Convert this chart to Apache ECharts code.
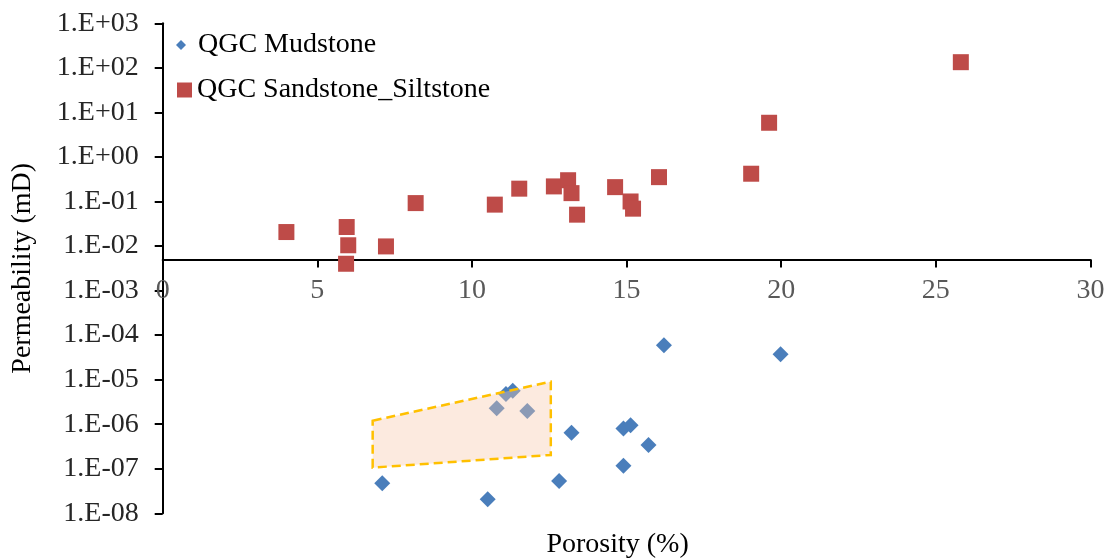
<!DOCTYPE html>
<html>
<head>
<meta charset="utf-8">
<script src="https://cdn.jsdelivr.net/npm/echarts@6/dist/echarts.min.js"></script>
<style>
html,body{margin:0;padding:0;background:#fff;}
#chart{width:1110px;height:559px;}
</style>
</head>
<body>
<div id="chart"></div>
<script>
// ---- data ----
var mudPorosity = [7.1, 10.51, 10.8, 11.1, 11.32, 11.79, 12.82, 13.22, 14.9, 15.13, 15.71, 14.9, 16.21, 19.98];
var mudPerm = [4.7e-8, 2.06e-8, 2.28e-6, 4.78e-6, 5.66e-6, 1.98e-6, 5.3e-8, 6.4e-7, 8.05e-7, 9.5e-7, 3.4e-7, 1.17e-7, 5.9e-5, 3.7e-5];
var sandPorosity = [4.0, 5.95, 6.0, 5.93, 7.22, 8.18, 10.74, 11.53, 12.65, 13.11, 13.22, 13.4, 14.63, 15.13, 15.21, 16.05, 19.03, 19.61, 25.81];
var sandPerm = [0.0206, 0.0267, 0.0104, 0.0040, 0.0098, 0.092, 0.085, 0.194, 0.218, 0.30, 0.154, 0.0506, 0.21, 0.10, 0.069, 0.352, 0.42, 5.85, 134];
var zonePorosity = [6.79, 12.55, 12.55, 6.79];
var zonePerm = [1.20e-6, 9.0e-6, 2.04e-7, 1.06e-7];
var yTickLabels = ['1.E-08','1.E-07','1.E-06','1.E-05','1.E-04','1.E-03','1.E-02','1.E-01','1.E+00','1.E+01','1.E+02','1.E+03'];
var xTicks = [0, 5, 10, 15, 20, 25, 30];
var xCross = 0.005;
var seriesNames = ['QGC Mudstone', 'QGC Sandstone_Siltstone'];

var FONT = 'Liberation Serif';
var FS = 28;
var gridTop = 23.3, gridBottom = 45.7, gridLeft = 162.7, gridRight = 19.6;
var yMinExp = -8, yMaxExp = 3;
var gridH = 559 - gridTop - gridBottom;
var xOffset = -gridH * (Math.log10(xCross) - yMinExp) / (yMaxExp - yMinExp);

function zip(a, b) { return a.map(function (v, i) { return [v, b[i]]; }); }

var chart = echarts.init(document.getElementById('chart'), null, {renderer: 'canvas'});
var option = {
  backgroundColor: '#ffffff',
  animation: false,
  grid: {left: gridLeft, right: gridRight, top: gridTop, bottom: gridBottom, containLabel: false, outerBoundsMode: 'none'},
  legend: [
    {data: [{name: seriesNames[0], icon: 'diamond'}], left: 176, top: 31, padding: 0,
     itemWidth: 10, itemHeight: 10, selectedMode: false,
     textStyle: {fontFamily: FONT, fontSize: FS, color: '#000', padding: [0, 0, 0, 7]}},
    {data: [{name: seriesNames[1], icon: 'rect'}], left: 177, top: 76, padding: 0,
     itemWidth: 15, itemHeight: 15, selectedMode: false,
     textStyle: {fontFamily: FONT, fontSize: FS, color: '#000'}}
  ],
  xAxis: {
    type: 'value', min: xTicks[0], max: xTicks[xTicks.length - 1], interval: 5,
    position: 'bottom', offset: xOffset,
    axisLine: {onZero: false, lineStyle: {color: '#000', width: 2}},
    axisTick: {show: true, inside: false, length: 8, lineStyle: {color: '#000', width: 2}},
    axisLabel: {margin: 17, fontFamily: FONT, fontSize: FS, color: '#595959'},
    splitLine: {show: false},
    name: 'Porosity (%)', nameLocation: 'middle', nameGap: 271,
    nameTextStyle: {fontFamily: FONT, fontSize: FS, color: '#000', padding: [0, 18, 0, 0]}
  },
  yAxis: {
    type: 'log', logBase: 10, min: Math.pow(10, yMinExp), max: Math.pow(10, yMaxExp), interval: 1,
    axisLine: {onZero: false, lineStyle: {color: '#000', width: 2}},
    axisTick: {show: true, inside: false, length: 8, lineStyle: {color: '#000', width: 2}},
    axisLabel: {margin: 24, fontFamily: FONT, fontSize: FS, color: '#262626',
      formatter: function (v) { var e = Math.round(Math.log10(v)); return yTickLabels[e - yMinExp]; }},
    splitLine: {show: false},
    minorTick: {show: false},
    name: 'Permeability (mD)', nameLocation: 'middle', nameGap: 126,
    nameTextStyle: {fontFamily: FONT, fontSize: FS, color: '#000'}
  },
  series: [
    {name: seriesNames[0], type: 'scatter', symbol: 'diamond', symbolSize: 16, z: 2,
     itemStyle: {color: '#4A7EBB', opacity: 1}, data: zip(mudPorosity, mudPerm)},
    {name: seriesNames[1], type: 'scatter', symbol: 'rect', symbolSize: 16, z: 2,
     itemStyle: {color: '#BE4B48', opacity: 1}, data: zip(sandPorosity, sandPerm)},
    {name: 'zone', type: 'custom', z: 5, silent: true,
     data: [0],
     renderItem: function (params, api) {
       var pts = zonePorosity.map(function (x, i) { return api.coord([x, zonePerm[i]]); });
       return {type: 'polygon', shape: {points: pts},
         style: {fill: 'rgba(247,200,170,0.38)', stroke: '#FFC000', lineWidth: 2.5, lineDash: [9, 5]}};
     }}
  ]
};
chart.setOption(option);
</script>
</body>
</html>
